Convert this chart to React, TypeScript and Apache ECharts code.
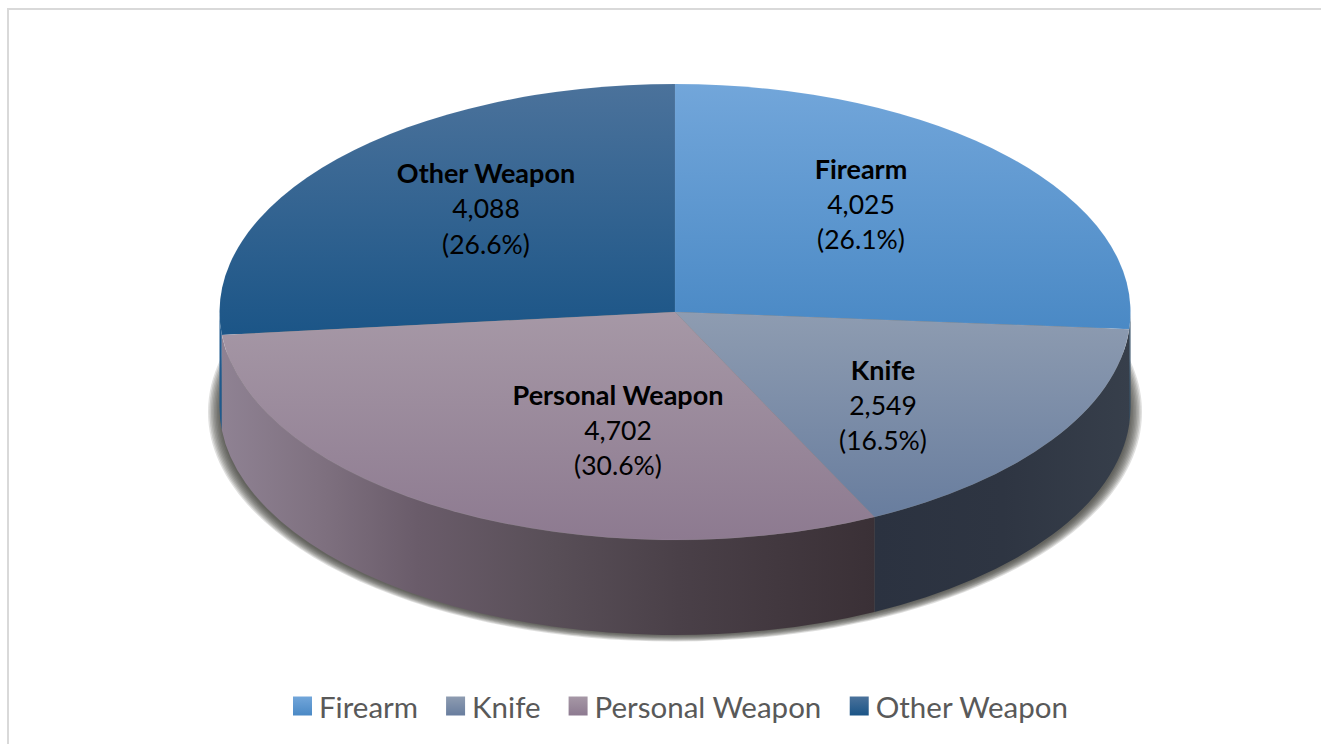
import React, { useEffect, useRef } from "react";
import * as echarts from "echarts";

const categories = ["Firearm", "Knife", "Personal Weapon", "Other Weapon"];
const values = [4025, 2549, 4702, 4088];
const percentLabels = ["(26.1%)", "(16.5%)", "(30.6%)", "(26.6%)"];

const FONT = "Lato, Carlito, Calibri, sans-serif";
const W = 1321;
const H = 744;
const CX = 675;
const CY = 312;
const RX = 455.5;
const RY = 228;
const DEPTH = 95;

const topStops: [string, string][] = [
  ["#72a6da", "#4a89c5"],
  ["#8e9cb1", "#687d9e"],
  ["#a698a6", "#8d7a90"],
  ["#4b729b", "#1b5587"],
];
const topRange: [number, number][] = [
  [84, 330],
  [312, 518],
  [312, 540],
  [84, 336],
];
const wallStops: [number, string][][] = [
  [[0, "#2a465f"], [1, "#2a465f"]],
  [[0, "#2b3240"], [0.5, "#2e3542"], [1, "#373f4b"]],
  [[0, "#8f8293"], [0.15, "#7f7180"], [0.3, "#6a5c6a"], [0.5, "#594f58"], [0.7, "#4a4048"], [1, "#3a3036"]],
  [[0, "#1f5a8e"], [1, "#1f5a8e"]],
];
const wallRange: [number, number][] = [
  [1100, 1131],
  [875, 1131],
  [221, 875],
  [218, 224],
];
const labelAnchors: [number, number][] = [
  [861, 168],
  [883, 369],
  [618, 394],
  [486, 172.5],
];
const LINE_GAP = 35.5;

const total = values.reduce((a, b) => a + b, 0);
const ANGLES: number[] = [0];
values.forEach((v, i) => ANGLES.push(ANGLES[i] + (v / total) * Math.PI * 2));

const px = (t: number) => CX + RX * Math.sin(t);
const py = (t: number, dy = 0) => CY - RY * Math.cos(t) + dy;

function vGrad(i: number) {
  return new echarts.graphic.LinearGradient(
    0, topRange[i][0], 0, topRange[i][1],
    [{ offset: 0, color: topStops[i][0] }, { offset: 1, color: topStops[i][1] }],
    true
  );
}

function makeItem(i: number) {
  return (_params: any, _api: any) => {
    const a = ANGLES[i];
    const b = ANGLES[i + 1];
    const large = b - a > Math.PI ? 1 : 0;
    const children: any[] = [];

    if (i === 3) {
      // Soft drop shadow built from stacked translucent ellipses.
      for (let s = 0; s < 9; s++) {
        children.push({
          type: "ellipse",
          shape: { cx: CX, cy: 412, rx: 467 - s * 1.5, ry: 229.5 - s * 0.8 },
          style: { fill: "#3c3c3a", opacity: 0.16 },
        });
      }
    }

    const wa = Math.max(a, Math.PI / 2);
    const wb = Math.min(b, Math.PI * 1.5);
    if (wb > wa) {
      const d =
        `M${px(wa)} ${py(wa)} A${RX} ${RY} 0 0 1 ${px(wb)} ${py(wb)} ` +
        `L${px(wb)} ${py(wb, DEPTH)} A${RX} ${RY} 0 0 0 ${px(wa)} ${py(wa, DEPTH)} Z`;
      children.push({
        type: "path",
        shape: { pathData: d },
        style: {
          fill: new echarts.graphic.LinearGradient(
            wallRange[i][0], 0, wallRange[i][1], 0,
            wallStops[i].map(([offset, color]) => ({ offset, color })),
            true
          ),
        },
      });
    }

    const d =
      `M${CX} ${CY} L${px(a)} ${py(a)} A${RX} ${RY} 0 ${large} 1 ${px(b)} ${py(b)} Z`;
    children.push({
      type: "path",
      z2: 5,
      shape: { pathData: d },
      style: { fill: vGrad(i), stroke: "rgba(255,255,255,0.08)", lineWidth: 0.6 },
    });

    const [lx, ly] = labelAnchors[i];
    const lines = [categories[i], values[i].toLocaleString("en-US"), percentLabels[i]];
    lines.forEach((text, k) => {
      children.push({
        type: "text",
        z2: 10,
        style: {
          text,
          x: lx,
          y: ly + k * LINE_GAP,
          fill: "#000000",
          align: "center",
          verticalAlign: "middle",
          font: k === 0 ? `bold 27px ${FONT}` : `26.5px ${FONT}`,
        },
      });
    });
    return { type: "group", children };
  };
}

// Drawn back to front: each wall overlaps the previous one's hidden strip.
const drawOrder = [3, 0, 1, 2];

export default function App() {
  const ref = useRef<HTMLDivElement>(null);
  useEffect(() => {
    document.body.style.margin = "0";
    const chart = echarts.init(ref.current!, null, { renderer: "svg" });
    chart.setOption({
      animation: false,
      backgroundColor: "#ffffff",
      graphic: [
        { type: "rect", shape: { x: 7, y: 8, width: W - 7, height: 2 }, style: { fill: "#d9d9d9" } },
        { type: "rect", shape: { x: 7, y: 8, width: 2, height: H - 8 }, style: { fill: "#d9d9d9" } },
      ],
      legend: {
        left: 293,
        top: 691,
        padding: 0,
        itemWidth: 19,
        itemHeight: 19,
        itemGap: 28,
        icon: "rect",
        textStyle: { fontFamily: FONT, fontSize: 29.5, color: "#595959", padding: [0, 0, 0, 2] },
        data: categories.map((name, i) => ({
          name,
          itemStyle: {
            color: new echarts.graphic.LinearGradient(0, 0, 0, 1, [
              { offset: 0, color: topStops[i][0] },
              { offset: 1, color: topStops[i][1] },
            ]),
          },
        })),
      },
      series: drawOrder.map((i) => ({
        type: "custom",
        name: categories[i],
        coordinateSystem: "none",
        silent: true,
        itemStyle: { color: topStops[i][1] },
        data: [[values[i]]],
        renderItem: makeItem(i),
      })),
    });
    return () => chart.dispose();
  }, []);
  return <div ref={ref} style={{ width: W, height: H }} />;
}
